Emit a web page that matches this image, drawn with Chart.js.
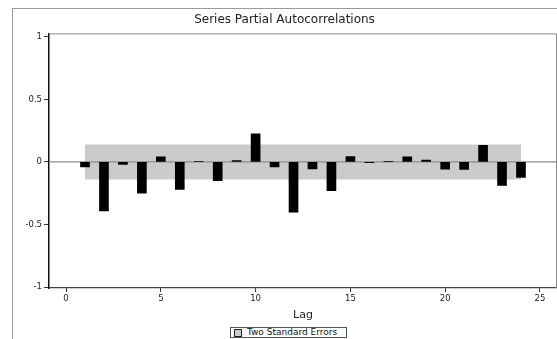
<!DOCTYPE html>
<html>
<head>
<meta charset="utf-8">
<script src="https://cdn.jsdelivr.net/npm/chart.js@4"></script>
<style>
  html, body { margin: 0; padding: 0; background: #fff; }
  #wrap { position: relative; width: 557px; height: 339px; overflow: hidden; }
  #frame {
    position: absolute; left: 12px; top: 8px; width: 600px; height: 400px;
    border-left: 1px solid #9a9a9a; border-top: 1px solid #9a9a9a;
  }
  #legend {
    position: absolute; left: 230px; top: 327px; height: 11px; width: 117px;
    border: 1px solid #555; background: #fff; box-sizing: border-box;
    font: 9px "DejaVu Sans", sans-serif; color: #111;
    line-height: 9px; white-space: nowrap; overflow: hidden;
  }
  #legend .sw {
    display: inline-block; width: 6px; height: 6px; margin: 1px 5px 0 3px;
    background: #cbcbcb; border: 1px solid #222; vertical-align: top;
  }
  canvas { position: absolute; left: 0; top: 0; }
</style>
</head>
<body>
<div id="wrap">
  <div id="frame"></div>
  <canvas id="pacf" width="557" height="339"></canvas>
  <div id="legend"><span class="sw"></span>Two Standard Errors</div>
</div>
<script>
// Partial autocorrelations by lag
const lags = [1, 2, 3, 4, 5, 6, 7, 8, 9, 10, 11, 12, 13, 14, 15, 16, 17, 18, 19, 20, 21, 22, 23, 24];
const pacf = [-0.04, -0.39, -0.02, -0.25, 0.04, -0.22, 0.005, -0.15, 0.01, 0.224,
              -0.04, -0.40, -0.056, -0.23, 0.042, -0.005, 0.005, 0.04, 0.015, -0.057,
              -0.06, 0.133, -0.187, -0.123];

// Two standard error band
const bandLags = [1, 24];
const bandLimit = 0.14;

const xTicks = [0, 5, 10, 15, 20, 25];
const yTicks = [-1, -0.5, 0, 0.5, 1];

const font = "'DejaVu Sans', sans-serif";

// thin border on top and right of the plot area
const plotBox = {
  id: "plotBox",
  afterDatasetsDraw(chart) {
    const { ctx, chartArea: a } = chart;
    ctx.save();
    ctx.strokeStyle = "#8a8a8a";
    ctx.lineWidth = 1;
    ctx.beginPath();
    ctx.moveTo(a.left, a.top + 0.5);
    ctx.lineTo(a.right - 0.5, a.top + 0.5);
    ctx.lineTo(a.right - 0.5, a.bottom);
    ctx.stroke();
    ctx.restore();
  }
};

new Chart(document.getElementById("pacf"), {
  type: "bar",
  data: {
    datasets: [
      {
        type: "bar",
        data: lags.map((l, i) => ({ x: l, y: pacf[i] })),
        backgroundColor: "#000",
        barThickness: 9,
        order: 0
      },
      {
        type: "line",
        data: [{ x: -0.9, y: 0 }, { x: 25.9, y: 0 }],
        borderColor: "#8c8c8c",
        borderWidth: 1.2,
        pointRadius: 0,
        fill: false,
        order: 1
      },
      {
        type: "line",
        label: "Two Standard Errors",
        data: bandLags.map(l => ({ x: l, y: bandLimit })),
        borderWidth: 0,
        pointRadius: 0,
        backgroundColor: "#cbcbcb",
        fill: { value: -bandLimit },
        order: 2
      }
    ]
  },
  options: {
    responsive: false,
    animation: false,
    layout: { padding: { left: 12, right: 0, top: 0, bottom: 17 } },
    plugins: {
      legend: { display: false },
      tooltip: { enabled: false },
      title: {
        display: true,
        text: "Series Partial Autocorrelations",
        color: "#222",
        font: { family: font, size: 12, weight: "normal" },
        padding: { top: 13, bottom: 6 }
      }
    },
    scales: {
      x: {
        type: "linear",
        offset: false,
        min: -0.9,
        max: 25.9,
        afterBuildTicks: s => { s.ticks = xTicks.map(v => ({ value: v })); },
        afterFit: s => { s.height = 34; },
        grid: { offset: false, drawOnChartArea: false, tickLength: 4, tickColor: "#333" },
        border: { color: "#444", width: 1.2 },
        ticks: {
          padding: 2,
          color: "#222",
          font: { family: font, size: 8.5 },
          callback: v => String(v)
        },
        title: {
          display: true,
          text: "Lag",
          color: "#222",
          font: { family: font, size: 11 },
          padding: 0
        }
      },
      y: {
        min: -1.006,
        max: 1.026,
        afterBuildTicks: s => { s.ticks = yTicks.map(v => ({ value: v })); },
        afterFit: s => { s.width = 37; },
        grid: { drawOnChartArea: false, tickLength: 5, tickColor: "#333" },
        border: { color: "#111", width: 1.5 },
        ticks: {
          padding: 2,
          color: "#222",
          font: { family: font, size: 8.5 },
          callback: v => String(v)
        }
      }
    }
  },
  plugins: [plotBox]
});
</script>
</body>
</html>
